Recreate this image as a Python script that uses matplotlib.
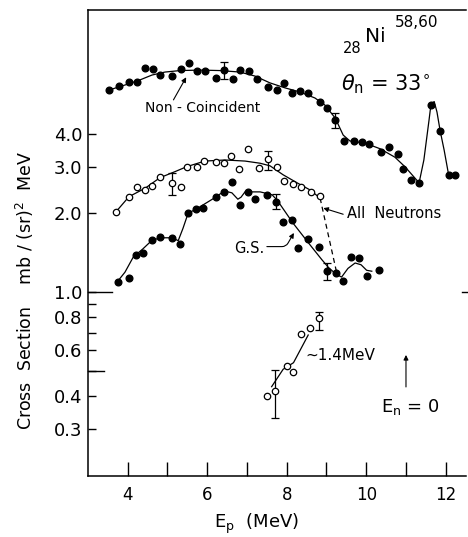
import matplotlib.pyplot as plt
import numpy as np
from matplotlib.ticker import NullFormatter

# Non-coincident proton spectrum (filled dots)
nc_ep = [3.53, 3.79, 4.03, 4.24, 4.44, 4.63, 4.81, 5.11, 5.33, 5.53, 5.74, 5.94,
         6.22, 6.42, 6.64, 6.82, 7.05, 7.25, 7.54, 7.75, 7.93, 8.13, 8.33, 8.54,
         8.84, 9.01, 9.22, 9.45, 9.68, 9.89, 10.06, 10.36, 10.58, 10.79, 10.93,
         11.13, 11.34, 11.62, 11.86, 12.07, 12.23]
nc_xs = [5.90, 6.11, 6.31, 6.35, 7.18, 7.10, 6.73, 6.67, 7.10, 7.46, 6.99, 6.99,
         6.54, 7.04, 6.52, 7.04, 6.99, 6.48, 6.04, 5.90, 6.26, 5.76, 5.85, 5.73,
         5.33, 5.05, 4.53, 3.77, 3.77, 3.73, 3.68, 3.43, 3.57, 3.35, 2.94,
         2.68, 2.61, 5.17, 4.12, 2.80, 2.80]
nc_bar_ep = [6.42, 9.22]
nc_bar_lo = [6.50, 4.21]
nc_bar_hi = [7.53, 4.81]
nc_curve_ep = [3.53, 4.01, 4.31, 4.61, 4.94, 5.32, 5.82, 6.32, 6.82, 7.20, 7.58,
               7.96, 8.33, 8.71, 8.96, 9.22, 9.42, 9.59, 9.97, 10.35, 10.72,
               10.98, 11.33, 11.45, 11.58, 11.63, 11.71, 11.78, 11.86, 11.96, 12.06]
nc_curve_xs = [5.90, 6.22, 6.45, 6.73, 6.91, 7.00, 7.03, 7.00, 6.91, 6.67, 6.28,
               6.01, 5.80, 5.50, 5.17, 4.61, 3.97, 3.77, 3.70, 3.52, 3.27,
               3.00, 2.61, 3.19, 4.53, 5.22, 5.33, 4.86, 4.12, 3.48, 2.87]

# All neutrons (open circles)
an_ep = [3.70, 4.03, 4.23, 4.44, 4.62, 4.81, 5.11, 5.33, 5.50, 5.74, 5.93, 6.21,
         6.43, 6.60, 6.81, 7.02, 7.29, 7.52, 7.75, 7.93, 8.15, 8.35, 8.61, 8.84]
an_xs = [2.02, 2.31, 2.51, 2.44, 2.54, 2.75, 2.60, 2.51, 3.01, 3.01, 3.16, 3.13,
         3.10, 3.30, 2.94, 3.50, 2.96, 3.21, 3.01, 2.66, 2.58, 2.52, 2.40, 2.33]
an_bar_ep = [5.11, 7.52]
an_bar_lo = [2.35, 2.92]
an_bar_hi = [2.84, 3.45]
an_curve_ep = [3.70, 4.03, 4.44, 4.81, 5.19, 5.49, 5.94, 6.45, 6.95, 7.33, 7.58,
               7.91, 8.26, 8.59, 8.84]
an_curve_xs = [2.02, 2.31, 2.49, 2.73, 2.88, 3.01, 3.16, 3.19, 3.16, 3.10, 3.03,
               2.80, 2.61, 2.45, 2.28]
an_dash_ep = [8.84, 9.27]
an_dash_xs = [2.28, 1.16]

# Ground state (filled dots)
gs_ep = [3.75, 4.02, 4.20, 4.39, 4.60, 4.81, 5.11, 5.32, 5.52, 5.72, 5.90, 6.21,
         6.43, 6.62, 6.83, 7.02, 7.20, 7.50, 7.73, 7.91, 8.13, 8.29, 8.54, 8.82,
         9.01, 9.24, 9.42, 9.62, 9.81, 10.03, 10.33]
gs_xs = [1.09, 1.13, 1.38, 1.41, 1.58, 1.62, 1.60, 1.52, 2.00, 2.07, 2.09, 2.30,
         2.41, 2.64, 2.15, 2.41, 2.26, 2.35, 2.21, 1.85, 1.89, 1.47, 1.59, 1.48,
         1.20, 1.18, 1.10, 1.36, 1.35, 1.15, 1.21]
gs_bar_ep = [7.73, 9.01]
gs_bar_lo = [2.07, 1.11]
gs_bar_hi = [2.36, 1.29]
gs_curve_ep = [3.75, 3.93, 4.14, 4.38, 4.60, 4.81, 5.11, 5.27, 5.39, 5.52, 5.72,
               6.21, 6.43, 6.62, 6.77, 6.85, 6.95, 7.33, 7.63, 7.76, 8.16, 8.59,
               8.88, 9.05, 9.24, 9.38, 9.54, 9.72, 9.87, 10.01, 10.14]
gs_curve_xs = [1.10, 1.19, 1.36, 1.46, 1.57, 1.61, 1.61, 1.57, 1.75, 2.00, 2.07,
               2.30, 2.43, 2.39, 2.26, 2.30, 2.41, 2.41, 2.35, 2.24, 1.83, 1.51,
               1.33, 1.24, 1.17, 1.14, 1.23, 1.29, 1.27, 1.21, 1.20]

# ~1.4 MeV excited group (open circles)
ex_ep = [7.51, 7.71, 8.00, 8.17, 8.35, 8.59, 8.80]
ex_xs = [0.401, 0.419, 0.522, 0.496, 0.690, 0.726, 0.794]
ex_bar_ep = [7.71, 8.80]
ex_bar_lo = [0.330, 0.716]
ex_bar_hi = [0.504, 0.841]
ex_curve_ep = [7.62, 7.91, 8.17, 8.54]
ex_curve_xs = [0.435, 0.507, 0.537, 0.685]

y_major = [0.3, 0.4, 0.6, 0.8, 1.0, 2.0, 3.0, 4.0]
y_labels = ['0.3', '0.4', '0.6', '0.8', '1.0', '2.0', '3.0', '4.0']
y_minor = [0.5, 0.7, 0.9]
x_major = [4, 6, 8, 10, 12]
x_minor = [5, 7, 9, 11]

fig = plt.figure(figsize=(4.68, 5.37), dpi=100)
ax = fig.add_axes([88 / 468, 1 - 476 / 537, 378 / 468, 466 / 537])
ax.set_yscale('log')
ax.set_xlim(3.0, 12.51)
ax.set_ylim(0.1984, 11.92)

lw = 0.9
ax.plot(nc_curve_ep, nc_curve_xs, color='k', lw=lw)
ax.plot(an_curve_ep, an_curve_xs, color='k', lw=lw)
ax.plot(an_dash_ep, an_dash_xs, color='k', lw=lw, ls=(0, (4, 3)))
ax.plot(gs_curve_ep, gs_curve_xs, color='k', lw=lw)
ax.plot(ex_curve_ep, ex_curve_xs, color='k', lw=lw)


def bars(x, lo, hi):
    x = np.array(x)
    lo = np.array(lo)
    hi = np.array(hi)
    mid = (lo + hi) / 2
    ax.errorbar(x, mid, yerr=[mid - lo, hi - mid], fmt='none', ecolor='k',
                elinewidth=0.9, capsize=2.6, capthick=0.9)


bars(nc_bar_ep, nc_bar_lo, nc_bar_hi)
bars(an_bar_ep, an_bar_lo, an_bar_hi)
bars(gs_bar_ep, gs_bar_lo, gs_bar_hi)
bars(ex_bar_ep, ex_bar_lo, ex_bar_hi)

ax.plot(nc_ep, nc_xs, 'o', color='k', ms=4.8, ls='none')
ax.plot(gs_ep, gs_xs, 'o', color='k', ms=4.8, ls='none')
ax.plot(an_ep, an_xs, 'o', mfc='white', mec='k', mew=0.9, ms=4.6, ls='none')
ax.plot(ex_ep, ex_xs, 'o', mfc='white', mec='k', mew=0.9, ms=4.6, ls='none')

# axes frame: left, top and bottom only
ax.spines['right'].set_visible(False)
for s in ['left', 'top', 'bottom']:
    ax.spines[s].set_linewidth(1.1)

ax.set_yticks(y_major, labels=y_labels)
ax.set_yticks(y_minor, minor=True)
ax.yaxis.set_minor_formatter(NullFormatter())
ax.set_xticks(x_major)
ax.set_xticks(x_minor, minor=True)
ax.tick_params(axis='y', which='both', direction='in', length=5.5, width=1.0,
               labelsize=13, pad=4, right=False)
ax.tick_params(axis='x', which='both', direction='in', length=10, width=1.0,
               labelsize=12, pad=7, top=False)

# longer marks at 1.0 and 0.5, short mark on the right at 1.0
ytr = ax.get_yaxis_transform()
ax.plot([0, 24 / 378], [1.0, 1.0], color='k', lw=1.0, transform=ytr, clip_on=False)
ax.plot([0, 16 / 378], [0.5, 0.5], color='k', lw=1.0, transform=ytr, clip_on=False)
ax.plot([0.99, 1.003], [1.0, 1.0], color='k', lw=1.0, transform=ytr, clip_on=False)

# labels on the curves
arrow = dict(arrowstyle='-|>', lw=0.8, color='k', mutation_scale=7,
             shrinkA=0, shrinkB=0)
ax.annotate('', xy=(5.47, 6.60), xytext=(5.15, 5.41), arrowprops=arrow)
ax.text(5.88, 5.04, 'Non - Coincident', fontsize=10, ha='center', va='center')
ax.annotate('', xy=(8.92, 2.09), xytext=(9.42, 1.98), arrowprops=arrow)
ax.text(10.69, 1.99, 'All  Neutrons', fontsize=10.5, ha='center', va='center')
ax.annotate('', xy=(8.18, 1.68), xytext=(7.50, 1.49),
            arrowprops=dict(arrow, connectionstyle='angle,angleA=0,angleB=60,rad=4'))
ax.text(7.06, 1.47, 'G.S.', fontsize=10.5, ha='center', va='center')
ax.text(9.35, 0.570, '~1.4MeV', fontsize=11, ha='center', va='center')
ax.annotate('', xy=(11.0, 0.575), xytext=(11.0, 0.434), arrowprops=arrow)

# nucleus and angle
ax.text(0.675, 0.908, '28', fontsize=10.5, transform=ax.transAxes, va='baseline')
ax.text(0.733, 0.931, 'Ni', fontsize=14.5, transform=ax.transAxes, va='baseline')
ax.text(0.812, 0.9635, '58,60', fontsize=11, transform=ax.transAxes, va='baseline')
ax.text(0.669, 0.828, r'$\theta_{\rm n}$ = 33$^{\circ}$', fontsize=15,
        transform=ax.transAxes, va='baseline')
ax.text(0.775, 0.137, r'E$_{\rm n}$ = 0', fontsize=13,
        transform=ax.transAxes, va='baseline')

fig.text(25 / 468, 1 - 290 / 537, 'Cross  Section    mb / (sr)$^2$  MeV',
         rotation=90, ha='center', va='center', fontsize=12.5)
fig.text(256 / 468, 1 - 524 / 537, r'E$_{\rm p}$  (MeV)', ha='center',
         va='center', fontsize=13)

fig.savefig('out.png', dpi=100)
